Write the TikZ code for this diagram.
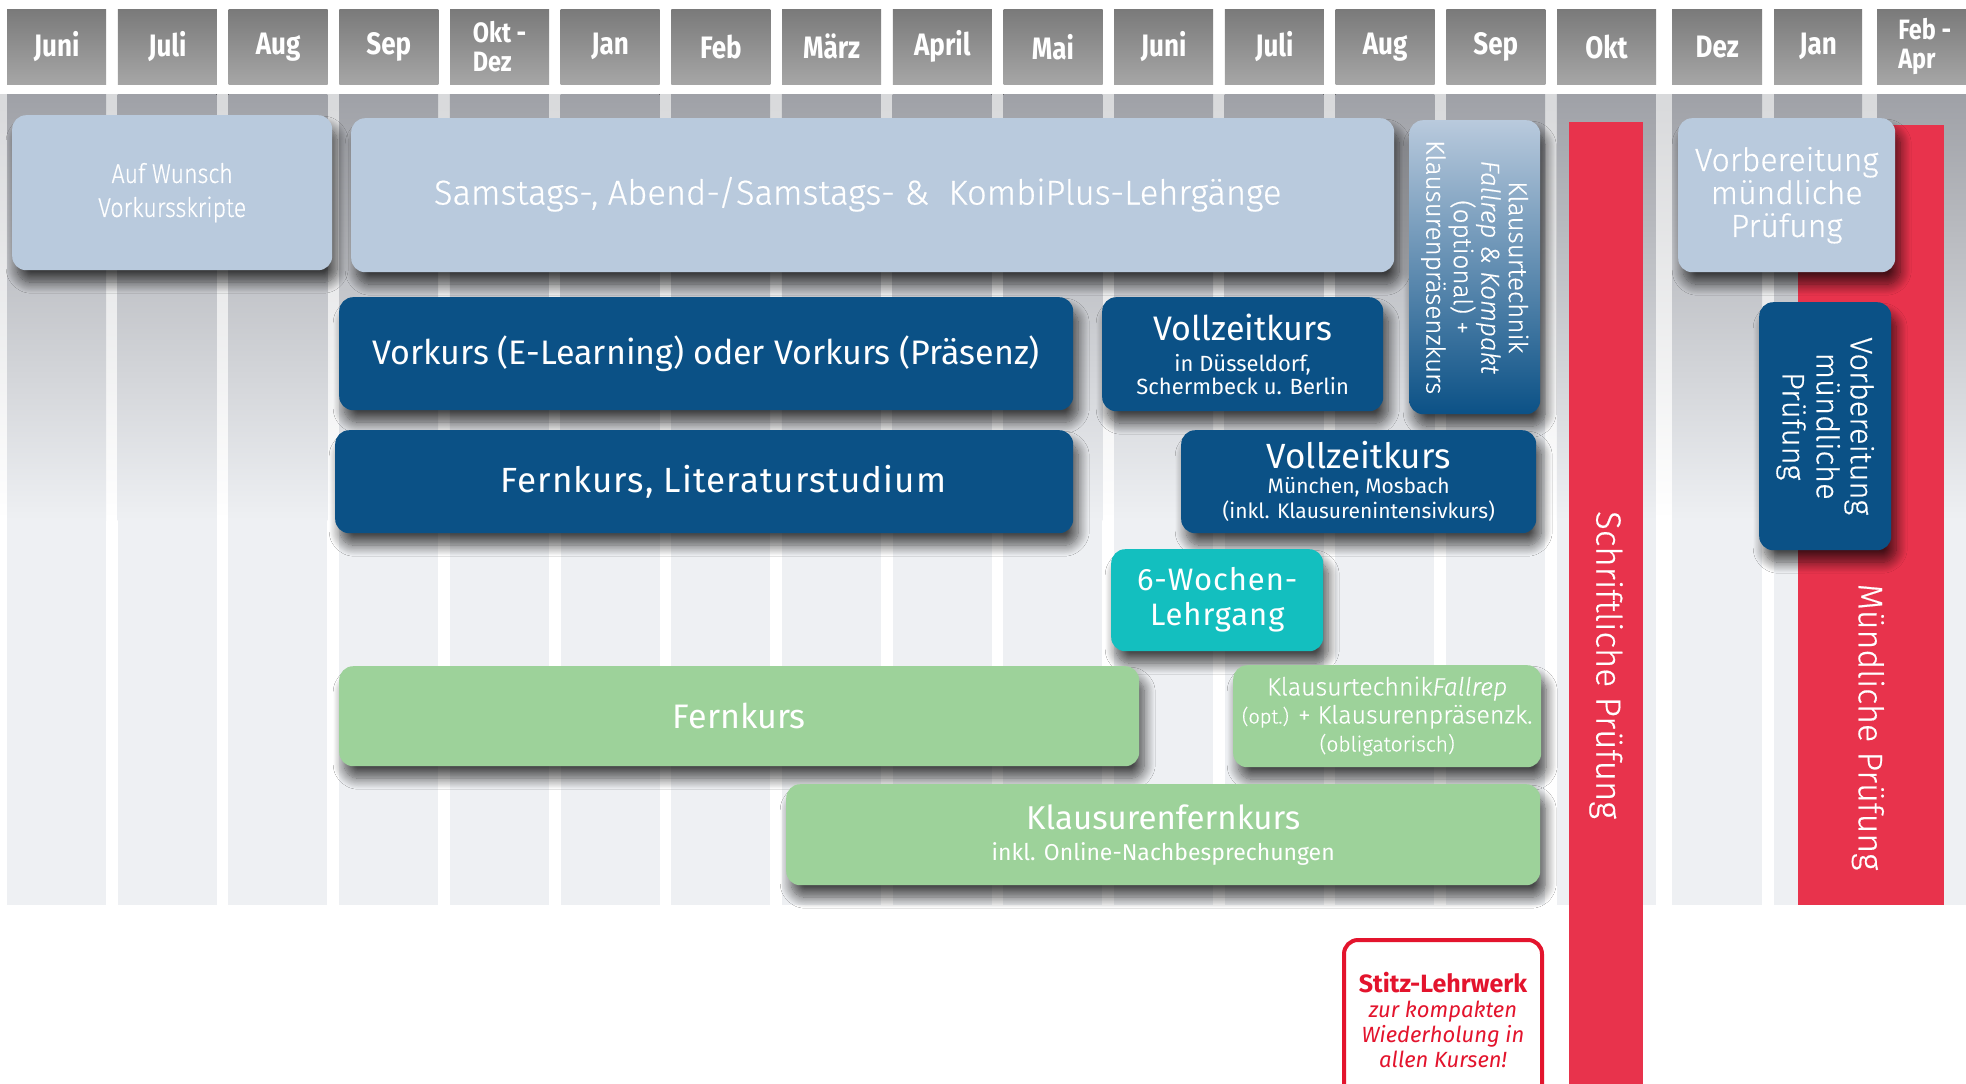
\documentclass[tikz,border=0pt]{standalone}
\usepackage{fontspec}
\setmainfont{Fira Sans}
\newfontfamily\firalight{Fira Sans}[UprightFont={* Light},ItalicFont={* Light Italic},BoldFont={* Bold},UprightFeatures={FakeBold=0.5},ItalicFeatures={FakeBold=0.5}]
\newfontfamily\firacondlight{Fira Sans}[UprightFont={* Light},FakeStretch=0.86,UprightFeatures={FakeBold=0.5}]
\newfontfamily\hdrfont{Fira Sans}[FakeStretch=0.84]
\usetikzlibrary{shadows.blur}
\definecolor{lightc}{HTML}{B9CADD}
\definecolor{midblue}{HTML}{8FAACA}
\definecolor{darkc}{HTML}{0B5186}
\definecolor{tealc}{HTML}{13BFBF}
\definecolor{greenc}{HTML}{9DD29A}
\definecolor{redc}{HTML}{E8334C}
\definecolor{stitzred}{HTML}{E3142D}
\definecolor{hdrtop}{HTML}{7A7A7A}
\definecolor{hdrbot}{HTML}{A6A6A6}
\definecolor{coltop}{HTML}{9FA1A7}
\definecolor{colbot}{HTML}{EEF0F3}
\definecolor{gaptop}{HTML}{D8D9DB}
\tikzset{
  hdr/.style={anchor=north west, minimum height=75pt, inner sep=0pt, top color=hdrtop, bottom color=hdrbot,
    text=white, align=left, font=\hdrfont\bfseries\fontsize{31}{27}\selectfont},
  hdrtwo/.style={font=\hdrfont\bfseries\fontsize{28}{29}\selectfont},
  boxbase/.style={rounded corners=14pt, inner sep=0pt, anchor=north west, text=white, align=center},
  shad/.style={blur shadow={shadow xshift=5pt, shadow yshift=-12pt, shadow blur radius=11pt, shadow blur steps=14, shadow opacity=70}},
  lightb/.style={boxbase, shad, fill=lightc},
  darkb/.style={boxbase, shad, fill=darkc},
  greenb/.style={boxbase, shad, fill=greenc},
  redbar/.style={fill=redc, anchor=north west, inner sep=0pt},
  vlabel/.style={rotate=-90, text=white, align=center},
}
\begin{document}
\begin{tikzpicture}[x=1pt,y=-1pt]
\useasboundingbox (0,0) rectangle (1966,1084);
\fill[white] (0,0) rectangle (1966,1084);
% background between columns
\fill[top color=gaptop, bottom color=white] (0,94) rectangle (1966,520);
% month columns and header
\foreach \i/\lab in {0/Juni,1/Juli,2/Aug,3/Sep,5/Jan,6/Feb,7/März,8/April,9/Mai,10/Juni,11/Juli,12/Aug,13/Sep,14/Okt,4/{}}{
  \pgfmathsetmacro\xl{7+110.7*\i}
  \fill[top color=coltop,bottom color=colbot] (\xl,94) rectangle ++(99,426);
  \fill[colbot] (\xl,519) rectangle ++(99,386);
}
\foreach \i/\lab in {0/Juni,1/Juli,2/Aug,3/Sep,5/Jan,6/Feb,7/März,8/April,9/Mai,10/Juni,11/Juli,12/Aug,13/Sep,14/Okt}{
  \pgfmathsetmacro\xl{7+110.7*\i}
  \node[hdr, minimum width=99pt] (h\i) at (\xl,9) {\lab};
}
\node[hdr, hdrtwo, minimum width=99pt] (h4) at (449.8,9) {Okt -\\Dez};
\foreach \j/\xl/\w/\lab in {15/1672/90/Dez,16/1774/88/Jan,17/1877/95/{}}{
  \fill[top color=coltop,bottom color=colbot] (\xl,94) rectangle ++(\w,426);
  \fill[colbot] (\xl,519) rectangle ++(\w,386);
}
\node[hdr, minimum width=90pt] (h15) at (1672,9) {Dez};
\node[hdr, minimum width=88pt] (h16) at (1774,9) {Jan};
\node[hdr, hdrtwo, minimum width=95pt] (h17) at (1877,9) {Feb -\\Apr};
% red exam bars
\node[redbar, minimum width=74pt, minimum height=975pt] (schr) at (1569,122) {};
\node[vlabel, font=\firalight\fontsize{35}{38}\selectfont] (schrlab) at (1606,665) {Schriftliche Prüfung};
\node[redbar, minimum width=146pt, minimum height=780pt] (muend) at (1798,125) {};
\node[vlabel, font=\firalight\fontsize{34}{38}\selectfont] (muendlab) at (1868,727) {Mündliche Prüfung};
% light boxes
\node[lightb, minimum width=320pt, minimum height=155pt, font=\firacondlight\fontsize{27}{34}\selectfont] (wunsch) at (12,115) {Auf Wunsch\\Vorkursskripte};
\node[lightb, minimum width=1043pt, minimum height=154pt, font=\firalight\fontsize{34.5}{40}\selectfont] (samst) at (351,118) {\raisebox{9pt}{\hspace*{-30pt}Samstags-, Abend-/Samstags- \&\ \ KombiPlus-Lehrgänge}};
\node[boxbase, shad, top color=lightc, middle color=midblue, bottom color=darkc, minimum width=131pt, minimum height=294pt] (ktv) at (1409,120) {};
\node[vlabel, font=\firalight\fontsize{26}{27.5}\selectfont] (ktvlab) at (ktv.center) {Klausurtechnik\\\textit{Fallrep \& Kompakt}\\(optional) +\\Klausurenpräsenzkurs};
\node[lightb, minimum width=217pt, minimum height=154pt, font=\firalight\fontsize{32}{33}\selectfont] (vorb1) at (1678,118) {Vorbereitung\\mündliche\\Prüfung};
% dark boxes
\node[darkb, minimum width=734pt, minimum height=113pt, font=\fontsize{34}{38}\selectfont] (vork) at (339,297) {Vorkurs (E-Learning) oder Vorkurs (Präsenz)};
\node[darkb, minimum width=281pt, minimum height=114pt, font=\fontsize{22}{23}\selectfont] (vz1) at (1102,297) {{\fontsize{34}{36}\selectfont Vollzeitkurs}\\[8pt]in Düsseldorf,\\Schermbeck u. Berlin};
\node[darkb, minimum width=738pt, minimum height=103pt, font=\fontsize{35}{38}\selectfont\addfontfeatures{LetterSpace=3}] (fernlit) at (335,430) {Fernkurs, Literaturstudium\hspace*{-38pt}};
\node[darkb, minimum width=355pt, minimum height=103pt, font=\fontsize{21}{25}\selectfont] (vz2) at (1181,430) {{\fontsize{35}{36}\selectfont Vollzeitkurs}\\München, Mosbach\\(inkl. Klausurenintensivkurs)};
\node[darkb, minimum width=132pt, minimum height=248pt] (vorb2) at (1759,302) {};
\node[vlabel, font=\firalight\fontsize{31}{34}\selectfont] (vorb2lab) at (vorb2.center) {Vorbereitung\\mündliche\\Prüfung};
% teal
\node[boxbase, shad, fill=tealc, minimum width=212pt, minimum height=102pt, font=\fontsize{31}{35}\selectfont\addfontfeatures{LetterSpace=3}] (sechs) at (1111,549) {6-Wochen-\\Lehrgang};
% green boxes
\node[greenb, minimum width=800pt, minimum height=100pt, font=\fontsize{34}{38}\selectfont] (fern) at (339,666) {Fernkurs};
\node[greenb, minimum width=308pt, minimum height=102pt, font=\firalight\fontsize{25}{28}\selectfont] (ktf) at (1233,665) {Klausurtechnik\textit{Fallrep}\\{\fontsize{20}{24}\selectfont(opt.)} + Klausurenpräsenzk.\\{\fontsize{21}{24}\selectfont(obligatorisch)}};
\node[greenb, minimum width=754pt, minimum height=101pt, font=\fontsize{23}{31}\selectfont] (kfern) at (786,784) {{\fontsize{33}{36}\selectfont Klausurenfernkurs}\\inkl. Online-Nachbesprechungen};
% Stitz box
\node[anchor=north west, draw=stitzred, line width=4pt, fill=white, rounded corners=14pt, minimum width=198pt, minimum height=160pt, inner sep=0pt, align=center, text=stitzred, font=\itshape\fontsize{22}{25}\selectfont] (stitz) at (1342,938) {{\upshape\bfseries\fontsize{25}{27}\selectfont Stitz-Lehrwerk}\\zur kompakten\\Wiederholung in\\allen Kursen!};
\end{tikzpicture}
\end{document}
